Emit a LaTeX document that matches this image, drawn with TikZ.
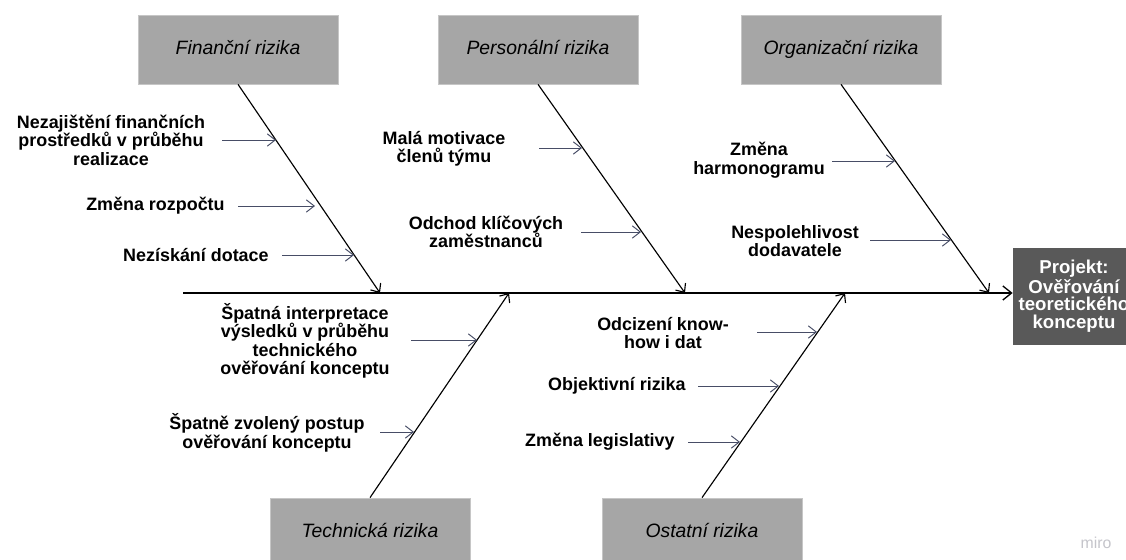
\documentclass[tikz,border=0pt]{standalone}
\usepackage{fontspec}
\setmainfont{Liberation Sans}
\usetikzlibrary{arrows.meta, positioning, calc}
\definecolor{fgray}{HTML}{A6A6A6}
\definecolor{fgrayline}{HTML}{C6C6C6}
\definecolor{fhead}{HTML}{595959}
\definecolor{fsub}{HTML}{474D66}
\definecolor{fmiro}{HTML}{C4C4CA}
\tikzset{
  catbox/.style={draw=fgrayline, fill=fgray, minimum width=4cm, minimum height=1.38cm,
                 inner sep=0pt, text height=0.75em, text depth=0.22em,
                 font=\fontsize{11}{13}\selectfont\itshape},
  headbox/.style={draw=fhead, fill=fhead, text=white, minimum width=2.44cm, minimum height=1.92cm,
                  inner sep=0pt, align=center, font=\fontsize{10.6}{10}\selectfont\bfseries},
  cause/.style={inner sep=0pt, align=center, font=\fontsize{10.2}{10.5}\selectfont\bfseries},
  bone/.style={-{Straight Barb[length=4pt, width=7pt]}, line width=0.65pt, black},
  spine/.style={-{Straight Barb[length=5pt, width=8pt]}, line width=0.75pt, black},
  subarr/.style={-{Straight Barb[length=4.5pt, width=7pt]}, line width=0.55pt, fsub},
}

\begin{document}
\begin{tikzpicture}[x=0.02cm, y=-0.02cm]
  \useasboundingbox (0,0) rectangle (1126,560);
  \clip (0,0) rectangle (1126,560);

  % categories
  \node[catbox] (fin) at (238,49.5) {Finanční rizika};
  \node[catbox] (pers) at (538,49.5) {Personální rizika};
  \node[catbox] (org) at (841,49.5) {Organizační rizika};
  \node[catbox] (tech) at (370,532.5) {Technická rizika};
  \node[catbox] (ost) at (702,532.5) {Ostatní rizika};
  \node[headbox] (head) at (1074,296) {Projekt:\\Ověřování\\teoretického\\konceptu};

  % spine and bones
  \coordinate (tail) at (183,293);
  \draw[spine] (tail) -- (tail -| head.west);
  \coordinate (finend) at (380,293);
  \coordinate (persend) at (685,293);
  \coordinate (orgend) at (989,293);
  \coordinate (techend) at (509,293);
  \coordinate (ostend) at (845,293);
  \draw[bone] (fin.south) -- (finend);
  \draw[bone] (pers.south) -- (persend);
  \draw[bone] (org.south) -- (orgend);
  \draw[bone] (tech.north) -- (techend);
  \draw[bone] (ost.north) -- (ostend);

  % causes
  \node[cause] (nfin1) at (111,140) {Nezajištění finančních\\prostředků v průběhu\\realizace};
  \node[cause, anchor=east] (nfin2) at (225,206) {Změna rozpočtu};
  \node[cause, anchor=east] (nfin3) at (269,255) {Nezískání dotace};
  \node[cause] (npers1) at (444,149) {Malá motivace\\členů týmu};
  \node[cause] (npers2) at (486,232) {Odchod klíčových\\zaměstnanců};
  \node[cause] (norg1) at (759,160) {Změna\\harmonogramu};
  \node[cause] (norg2) at (795,241) {Nespolehlivost\\dodavatele};
  \node[cause] (ntech1) at (305,341) {Špatná interpretace\\výsledků v průběhu\\technického\\ověřování konceptu};
  \node[cause] (ntech2) at (267,433) {Špatně zvolený postup\\ověřování konceptu};
  \node[cause] (nost1) at (663,333) {Odcizení know-\\how i dat};
  \node[cause, anchor=east] (nost2) at (686,386) {Objektivní rizika};
  \node[cause, anchor=east] (nost3) at (675,442) {Změna legislativy};

  % cause arrows
  \coordinate (fin1-a) at (222,140);   \coordinate (fin1-b) at (276,140);
  \coordinate (fin2-a) at (238,206);   \coordinate (fin2-b) at (315,206);
  \coordinate (fin3-a) at (282,255);   \coordinate (fin3-b) at (354,255);
  \coordinate (pers1-a) at (539,148);  \coordinate (pers1-b) at (582,148);
  \coordinate (pers2-a) at (581,232);  \coordinate (pers2-b) at (641,232);
  \coordinate (org1-a) at (832,161);   \coordinate (org1-b) at (895,161);
  \coordinate (org2-a) at (870,240);   \coordinate (org2-b) at (951,240);
  \coordinate (tech1-a) at (411,340);  \coordinate (tech1-b) at (477,340);
  \coordinate (tech2-a) at (380,432);  \coordinate (tech2-b) at (414,432);
  \coordinate (ost1-a) at (757,332);   \coordinate (ost1-b) at (817,332);
  \coordinate (ost2-a) at (698,386);   \coordinate (ost2-b) at (779,386);
  \coordinate (ost3-a) at (688,442);   \coordinate (ost3-b) at (740,442);
  \foreach \c in {fin1,fin2,fin3,pers1,pers2,org1,org2,tech1,tech2,ost1,ost2,ost3}
    \draw[subarr] (\c-a) -- (\c-b);

  \node[text=fmiro, font=\fontsize{9}{9}\selectfont] (miro) at (1096,543) {miro};
\end{tikzpicture}
\end{document}
